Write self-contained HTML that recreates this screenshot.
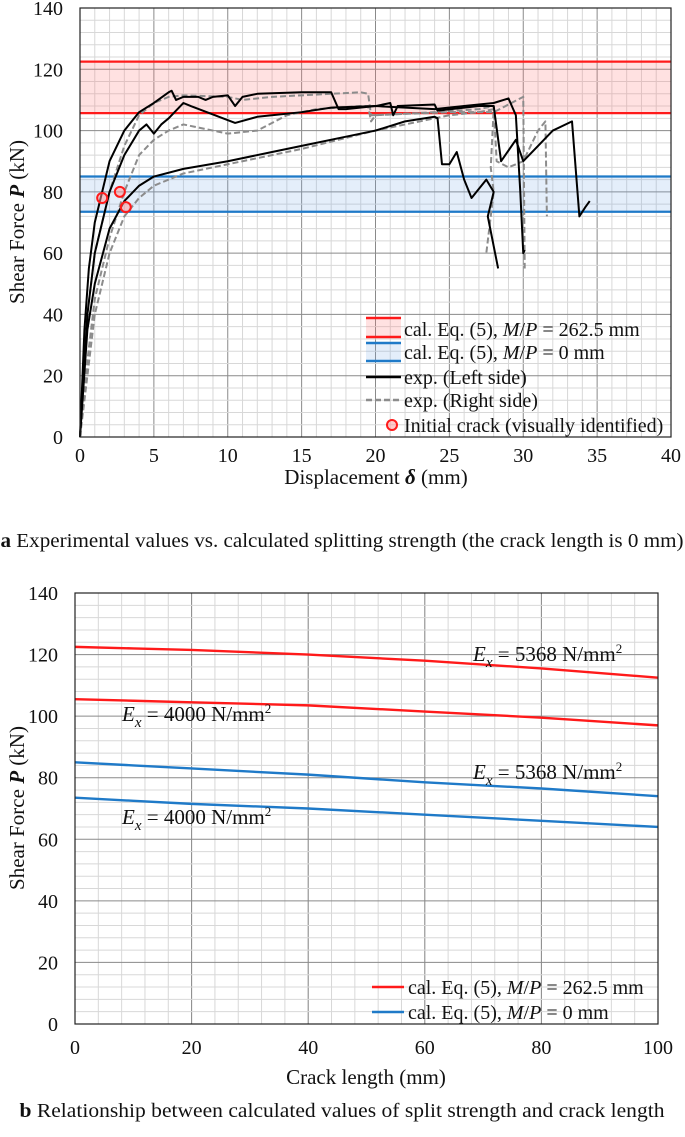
<!DOCTYPE html>
<html><head><meta charset="utf-8"><style>
body{margin:0;background:#fff;}
svg{display:block;font-family:"Liberation Serif",serif;}
</style></head><body>
<svg id="s" width="685" height="1137"></svg>
<script>
const NS="http://www.w3.org/2000/svg";
// ---- Chart a data ----
const aXTicks=[0,5,10,15,20,25,30,35,40];
const aYTicks=[0,20,40,60,80,100,120,140];
const bandRed=[105.7,122.5];
const bandBlue=[73.5,85];
const leftA=[[0,0],[0.3,35],[0.6,55],[1,70],[1.5,80],[2,90],[3,100],[4,106],[5,109],[6,112.5],[6.2,113],[6.5,110],[7,111],[8,111],[8.5,110],[9,111],[10,111.5],[10.5,108],[11,111],[12,112],[15,112.5],[17,112.5],[17.5,107],[18,107],[20,108],[21,109],[21.2,105],[21.5,108],[24,108.5],[24.2,106.5],[27,108],[28,108],[28.5,90],[29.5,97],[30,90],[31,95],[32,100],[33.3,103],[33.8,72],[34.2,75],[34.5,77]];
const leftB=[[0,0],[0.5,40],[1,60],[2,80],[3,92],[4,100],[4.5,102],[5,99],[5.5,102],[6,104],[7,109],[7.5,108],[10.5,102.5],[12,104.5],[15,106],[17,107.5],[20,108],[24,107],[26,108],[28,109],[29,110.5],[29.5,105],[29.8,80],[30,60],[30.1,61]];
const leftC=[[0,0],[0.5,35],[1,50],[2,68],[3,77],[4,82],[5,85],[7,87.5],[10,90],[13,93],[15,95],[18,98],[20,100],[22,103],[24,104.5],[24.2,104],[24.5,89],[25,89],[25.5,93],[26,84],[26.5,78],[27.5,84],[28,80],[27.6,72],[28.3,55]];
const rightD=[[0,0],[0.5,25],[1,45],[2,65],[3,80],[4,92],[5,97],[6,100],[7,102],[8,101],[10,99],[12,100],[14,105],[16,107],[19,108],[19.5,108],[19.7,103],[20,105],[24,106],[27,107],[28,108],[28.2,90],[29,88],[30,90],[31,100],[31.5,103],[31.6,72]];
const rightE=[[0,0],[0.5,40],[1,60],[2,80],[3,95],[4,105],[5,109],[6,111],[7,111.5],[10,111],[11,110],[13,111],[15,111.5],[19,112.5],[19.5,112],[19.7,105],[25,106],[28,106],[30,111],[30.1,55]];
const rightF=[[0,0],[0.5,20],[1,40],[2,60],[3,72],[4,78],[5,82],[7,86],[10,89],[15,94],[20,100],[24,104],[25,105],[27,106],[28,107],[27.8,88],[28,80],[27.5,60]];
const cracks=[[1.5,78],[2.7,80],[3.1,75]];
// ---- Chart b data ----
const bXTicks=[0,20,40,60,80,100];
const bYTicks=[0,20,40,60,80,100,120,140];
const crackLen=[0,10,20,40,60,80,100];
const redHigh=[122.5,122,121.5,120,118,115.5,112.5];
const redLow=[105.5,105,104.5,103.5,101.5,99.5,97];
const blueHigh=[85,84,83,81,78.5,76.5,74];
const blueLow=[73.5,72.5,71.5,70,68,66,64];

const svg=document.getElementById('s');
function el(t,a,p){const e=document.createElementNS(NS,t);for(const k in a)e.setAttribute(k,a[k]);(p||svg).appendChild(e);return e;}
function txt(x,y,s,a,p){const e=el('text',Object.assign({x:x,y:y,'font-size':20,fill:'#111'},a||{}),p);e.innerHTML=s;return e;}

function axes(x0,x1,y0,y1,xmax,ymax){return {X:v=>x0+(x1-x0)*v/xmax,Y:v=>y0-(y0-y1)*v/ymax};}

// Chart a
const A=axes(80,671,437,8,40,140);
const ga=el('g',{});


for(let v=0;v<=40;v++){el('line',{x1:A.X(v),x2:A.X(v),y1:A.Y(0),y2:A.Y(140),stroke:v%5?'#d8d8d8':'#8a8a8a','stroke-width':1},ga);}
for(let v=0;v<=140;v+=4){el('line',{x1:A.X(0),x2:A.X(40),y1:A.Y(v),y2:A.Y(v),stroke:v%20?'#d8d8d8':'#8a8a8a','stroke-width':1},ga);}
const br=el('rect',{x:A.X(0),y:A.Y(bandRed[1]),width:A.X(40)-A.X(0),height:A.Y(bandRed[0])-A.Y(bandRed[1]),fill:'rgba(255,120,120,0.22)'},ga);


const bb=el('rect',{x:A.X(0),y:A.Y(bandBlue[1]),width:A.X(40)-A.X(0),height:A.Y(bandBlue[0])-A.Y(bandBlue[1]),fill:'rgba(120,170,230,0.2)'},ga);


bandRed.forEach(v=>el('line',{x1:A.X(0),x2:A.X(40),y1:A.Y(v),y2:A.Y(v),stroke:'#ff1a1a','stroke-width':2.2},ga));
bandBlue.forEach(v=>el('line',{x1:A.X(0),x2:A.X(40),y1:A.Y(v),y2:A.Y(v),stroke:'#1f7ac8','stroke-width':2.2},ga));
function curve(pts,st,dash,name){const p=el('polyline',{points:pts.map(q=>A.X(q[0])+','+A.Y(q[1])).join(' '),fill:'none',stroke:st,'stroke-width':2,'stroke-dasharray':dash||'none','stroke-linejoin':'round'},ga);

}
curve(rightD,'#8c8c8c','6,3','right-curve-1');curve(rightE,'#8c8c8c','6,3','right-curve-2');curve(rightF,'#8c8c8c','6,3','right-curve-3');
curve(leftA,'#000','','left-curve-1');curve(leftB,'#000','','left-curve-2');curve(leftC,'#000','','left-curve-3');
cracks.forEach(c=>{const m=el('circle',{cx:A.X(c[0]),cy:A.Y(c[1]),r:5,fill:'rgba(255,150,150,0.5)',stroke:'#ff1a1a','stroke-width':2},ga);

});
el('rect',{x:80,y:8,width:591,height:429,fill:'none',stroke:'#222','stroke-width':1.2},ga);
aYTicks.forEach(v=>txt(63,A.Y(v)+7,v,{'text-anchor':'end'},ga));
aXTicks.forEach(v=>txt(A.X(v),462,v,{'text-anchor':'middle'},ga));
txt(376,484,'Displacement <tspan font-weight="bold" font-style="italic">δ</tspan> (mm)',{'text-anchor':'middle','font-size':21},ga);
txt(0,0,'Shear Force <tspan font-weight="bold" font-style="italic">P</tspan> (kN)',{'text-anchor':'middle','font-size':21,transform:'translate(24,222) rotate(-90)'},ga);
// legend a
const la=el('g',{},ga);


el('rect',{x:366,y:318,width:35,height:19,fill:'rgba(255,120,120,0.22)'},la);
el('line',{x1:366,x2:401,y1:318,y2:318,stroke:'#ff1a1a','stroke-width':2.5},la);
el('line',{x1:366,x2:401,y1:337,y2:337,stroke:'#ff1a1a','stroke-width':2.5},la);
el('rect',{x:366,y:343,width:35,height:18,fill:'rgba(120,170,230,0.2)'},la);
el('line',{x1:366,x2:401,y1:343,y2:343,stroke:'#1f7ac8','stroke-width':2.5},la);
el('line',{x1:366,x2:401,y1:361,y2:361,stroke:'#1f7ac8','stroke-width':2.5},la);
el('line',{x1:366,x2:401,y1:377,y2:377,stroke:'#000','stroke-width':2.5},la);
el('line',{x1:366,x2:401,y1:400,y2:400,stroke:'#8c8c8c','stroke-width':2.5,'stroke-dasharray':'6,3'},la);
el('circle',{cx:392,cy:425,r:5,fill:'rgba(255,150,150,0.5)',stroke:'#ff1a1a','stroke-width':2},la);
const lf=20;
txt(404,336,'cal. Eq. (5), <tspan font-style="italic">M</tspan>/<tspan font-style="italic">P</tspan> = 262.5 mm',{'font-size':lf},la);
txt(404,359,'cal. Eq. (5), <tspan font-style="italic">M</tspan>/<tspan font-style="italic">P</tspan> = 0 mm',{'font-size':lf},la);
txt(404,384,'exp. (Left side)',{'font-size':lf},la);
txt(404,407,'exp. (Right side)',{'font-size':lf},la);
txt(404,432,'Initial crack (visually identified)',{'font-size':lf},la);
const ca=txt(342,547,'<tspan font-weight="bold">a</tspan> Experimental values vs. calculated splitting strength (the crack length is 0 mm)',{'text-anchor':'middle','font-size':20.5,textLength:683,lengthAdjust:'spacingAndGlyphs'});



// Chart b
const B=axes(75,658,1024,593,100,140);
const gb=el('g',{});


for(let v=0;v<=100;v+=4){el('line',{x1:B.X(v),x2:B.X(v),y1:B.Y(0),y2:B.Y(140),stroke:'#d8d8d8'},gb);}
for(let v=0;v<=100;v+=20){el('line',{x1:B.X(v),x2:B.X(v),y1:B.Y(0),y2:B.Y(140),stroke:'#8a8a8a'},gb);}
for(let v=0;v<=140;v+=4){el('line',{x1:B.X(0),x2:B.X(100),y1:B.Y(v),y2:B.Y(v),stroke:v%20?'#d8d8d8':'#8a8a8a'},gb);}
function bline(vals,col,name){const p=el('polyline',{points:vals.map((v,i)=>B.X(crackLen[i])+','+B.Y(v)).join(' '),fill:'none',stroke:col,'stroke-width':2.4},gb);

}
bline(redHigh,'#ff1a1a','line-red-5368');bline(redLow,'#ff1a1a','line-red-4000');
bline(blueHigh,'#1f7ac8','line-blue-5368');bline(blueLow,'#1f7ac8','line-blue-4000');
el('rect',{x:75,y:593,width:583,height:431,fill:'none',stroke:'#222','stroke-width':1.2},gb);
bYTicks.forEach(v=>txt(58,B.Y(v)+7,v,{'text-anchor':'end'},gb));
bXTicks.forEach(v=>txt(B.X(v),1054,v,{'text-anchor':'middle'},gb));
txt(366,1084,'Crack length (mm)',{'text-anchor':'middle','font-size':21},gb);
txt(0,0,'Shear Force <tspan font-weight="bold" font-style="italic">P</tspan> (kN)',{'text-anchor':'middle','font-size':21,transform:'translate(24,808) rotate(-90)'},gb);
const ex='<tspan font-style="italic">E</tspan><tspan font-style="italic" font-size="15" dy="6">x</tspan><tspan dy="-6"> = </tspan>';
const ef=21;
txt(473,661,ex+'5368 N/mm<tspan font-size="13" dy="-8">2</tspan>',{'font-size':ef},gb);
txt(473,779,ex+'5368 N/mm<tspan font-size="13" dy="-8">2</tspan>',{'font-size':ef},gb);
txt(122,721,ex+'4000 N/mm<tspan font-size="13" dy="-8">2</tspan>',{'font-size':ef},gb);
txt(122,824,ex+'4000 N/mm<tspan font-size="13" dy="-8">2</tspan>',{'font-size':ef},gb);
const lb=el('g',{},gb);


el('line',{x1:372,x2:404,y1:987,y2:987,stroke:'#ff1a1a','stroke-width':2.5},lb);
el('line',{x1:372,x2:404,y1:1012,y2:1012,stroke:'#1f7ac8','stroke-width':2.5},lb);
txt(408,994,'cal. Eq. (5), <tspan font-style="italic">M</tspan>/<tspan font-style="italic">P</tspan> = 262.5 mm',{'font-size':20},lb);
txt(408,1019,'cal. Eq. (5), <tspan font-style="italic">M</tspan>/<tspan font-style="italic">P</tspan> = 0 mm',{'font-size':20},lb);
const cb=txt(342,1117,'<tspan font-weight="bold">b</tspan> Relationship between calculated values of split strength and crack length',{'text-anchor':'middle','font-size':20.5,textLength:645,lengthAdjust:'spacingAndGlyphs'});


</script>
</body></html>
